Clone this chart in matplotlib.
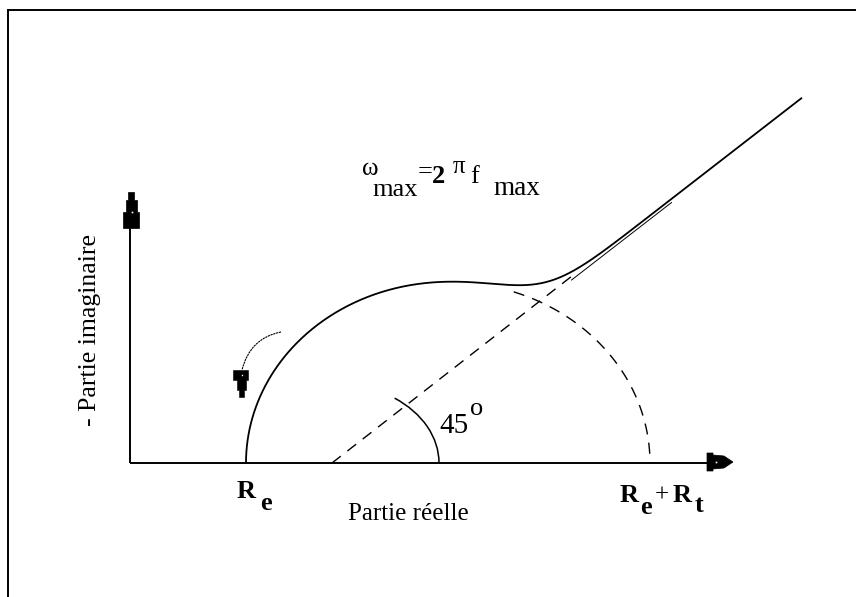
import numpy as np
import matplotlib
matplotlib.use("Agg")
import matplotlib.pyplot as plt
from matplotlib.patches import Polygon, Arc, PathPatch
from matplotlib.lines import Line2D
from matplotlib.path import Path

# ---- Nyquist diagram parameters (drawing units, origin at the axis corner) ----
R_E = 116             # electrolyte resistance: where the capacitive arc starts
R_T = 404             # charge-transfer resistance: arc diameter
ARC_HEIGHT = 181      # height of the (slightly flattened) capacitive arc
WARBURG_FOOT = 202    # foot of the 45-degree diffusion line on the real axis
WARBURG_SLOPE = 0.775
WARBURG_END = 672     # abscissa where the diffusion branch stops
JUNCTION_SHARPNESS = 6.6
DASH_START_ANGLE = 71     # degrees on the arc where the dashed part begins
LINE_DASH_END = 445       # where the dashed 45-degree line meets the solid branch
DOUBLE_TRACE = (440, 540) # stretch of the diffusion branch drawn as a double stroke

X_AXIS_LEN = 577
Y_AXIS_LEN = 235

ANGLE_RX, ANGLE_RY, ANGLE_SPAN = 107, 80, 46

# arrowhead outlines (offsets from the tip)
Y_HEAD = [(-3, 0), (3, 0), (3, -8), (5.5, -8), (5.5, -20), (8, -20), (8, -36),
          (-8, -36), (-8, -20), (-5.5, -20), (-5.5, -8), (-3, -8)]
Y_HEAD_TIP = (1, 271)
X_HEAD = [(-26, 9), (-20, 9), (-20, 7), (-9, 6), (0, 0), (-9, -6), (-20, -7),
          (-20, -9), (-26, -9)]
X_HEAD_TIP = (603, 1)
CURL_PTS = [(151, 131), (120, 125), (112, 93)]
CURL_HEAD = [(-8.5, 27), (6.5, 27), (6.5, 17), (4.5, 17), (4.5, 7), (2.5, 7),
             (2.5, 0), (-2.5, 0), (-2.5, 7), (-4.5, 7), (-4.5, 17), (-8.5, 17)]
CURL_HEAD_TIP = (111.5, 66)

SERIF = "Liberation Serif"

fig = plt.figure(figsize=(8.56, 5.97), dpi=100)
ax = fig.add_axes([0, 0, 1, 1])
ax.set_xlim(-130, 726)
ax.set_ylim(-134, 463)
ax.axis("off")

# outer frame (top and left edges visible)
ax.add_line(Line2D([-122, 760], [453, 453], color="black", lw=1.4))
ax.add_line(Line2D([-122, -122], [453, -200], color="black", lw=1.4))

# axes
ax.add_line(Line2D([0, X_AXIS_LEN], [0, 0], color="black", lw=1.4, solid_capstyle="butt"))
ax.add_line(Line2D([0, 0], [0, Y_AXIS_LEN], color="black", lw=1.4, solid_capstyle="butt"))
for head, tip in ((Y_HEAD, Y_HEAD_TIP), (X_HEAD, X_HEAD_TIP)):
    pts = [(tip[0] + dx, tip[1] + dy) for dx, dy in head]
    ax.add_patch(Polygon(pts, closed=True, color="black", lw=0.5))
ax.plot([2], [251], marker="s", ms=1.2, color="white", mew=0)
ax.plot([586], [1], marker="s", ms=1.2, color="white", mew=0)

# capacitive arc + diffusion branch
centre = R_E + R_T / 2
a = R_T / 2
theta = np.linspace(np.pi, 0, 600)
xe = centre + a * np.cos(theta)
ye = ARC_HEIGHT * np.sin(theta)


def warburg(x):
    return np.clip(1 + WARBURG_SLOPE * (x - WARBURG_FOOT), 0, None)


k = JUNCTION_SHARPNESS
ys = (ye ** k + warburg(xe) ** k) ** (1 / k)
xl = np.linspace(R_E + R_T, WARBURG_END, 100)
x_solid = np.concatenate([xe, xl])
y_solid = np.concatenate([ys, warburg(xl)])
ax.plot(x_solid, y_solid, color="black", lw=1.3, solid_capstyle="butt")

# second, thinner stroke running alongside part of the diffusion branch
xt = np.linspace(*DOUBLE_TRACE, 50)
ax.plot(xt + 1.5, warburg(xt) - 2.5, color="black", lw=0.7)

# dashed continuation of the arc
th_d = np.linspace(np.radians(DASH_START_ANGLE), 0, 200)
ax.plot(centre + a * np.cos(th_d), ARC_HEIGHT * np.sin(th_d), color="black",
        lw=1.0, linestyle=(0, (8, 6)))

# dashed 45-degree line
xd = np.array([WARBURG_FOOT, LINE_DASH_END])
ax.plot(xd, 1 + WARBURG_SLOPE * (xd - WARBURG_FOOT) - 1 * (xd == WARBURG_FOOT),
        color="black", lw=1.0, linestyle=(0, (8, 6)))

# angle marker
ax.add_patch(Arc((WARBURG_FOOT, 0), 2 * ANGLE_RX, 2 * ANGLE_RY, theta1=0,
                 theta2=ANGLE_SPAN, color="black", lw=1.1))

# curved arrow showing the direction of increasing frequency
curl = Path(CURL_PTS, [Path.MOVETO, Path.CURVE3, Path.CURVE3])
ax.add_patch(PathPatch(curl, fill=False, color="black", lw=0.8, linestyle=(0, (2, 0.6))))
ax.add_patch(Polygon([(CURL_HEAD_TIP[0] + dx, CURL_HEAD_TIP[1] + dy) for dx, dy in CURL_HEAD],
                     closed=True, color="black", lw=0.4))
ax.plot([CURL_HEAD_TIP[0]], [CURL_HEAD_TIP[1] + 22], marker="s", ms=1.0, color="white", mew=0)


# labels
def txt(x, y, s, size, weight="normal", **kw):
    ax.text(x, y, s, fontsize=size, fontweight=weight, family=SERIF,
            ha="left", va="baseline", **kw)


txt(232, 288, "ω", 18)
txt(242, 267, "max", 19)
txt(288, 285, "=", 19)
txt(302, 280, "2", 19, "bold")
txt(323, 290, "π", 18)
txt(340, 280, "f", 19)
txt(363, 268, "max", 19.5)

txt(309, 30, "45", 21)
txt(340, 48, "o", 19)

txt(107, -35, "R", 19, "bold")
txt(130, -47, "e", 19, "bold")
txt(218, -57, "Partie réelle", 18)
txt(490, -39, "R", 19, "bold")
txt(510, -51, "e", 19, "bold")
txt(525, -39, "+", 18)
txt(543, -39, "R", 19, "bold")
txt(565, -49, "t", 19, "bold")

ax.text(-34, 133, "- Partie imaginaire", fontsize=18.5, family=SERIF, rotation=90,
        rotation_mode="anchor", ha="center", va="baseline")

fig.savefig("out.png", dpi=100)
